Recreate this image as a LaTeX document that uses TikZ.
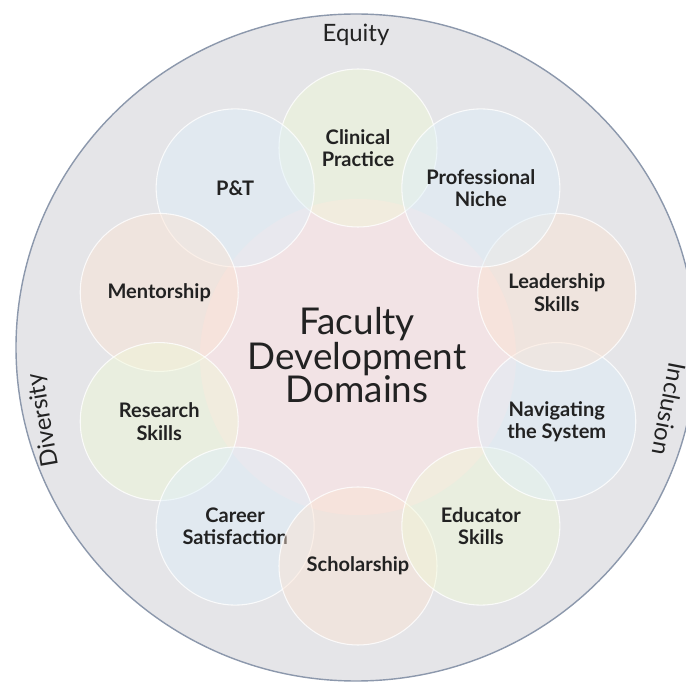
\documentclass[tikz,border=0pt]{standalone}
\usepackage{fontspec}
\setmainfont{Lato}
\usepackage{xcolor}
\usepackage{tikz}
\usetikzlibrary{shapes.geometric}

\definecolor{nen}{RGB}{229,229,232}
\definecolor{vien}{RGB}{140,152,172}
\definecolor{hong}{RGB}{242,227,229}
\definecolor{xanhduong}{RGB}{222,240,250}
\definecolor{xanhla}{RGB}{240,249,214}
\definecolor{cam}{RGB}{253,227,210}
\definecolor{chu}{RGB}{34,34,34}

\begin{document}
\begin{tikzpicture}[
	vong/.style={circle,draw=white,draw opacity=0.8,line width=0.6pt,
		minimum size=3.16cm,inner sep=0pt,fill opacity=0.45,text opacity=1,
		align=center,text=chu,font=\bfseries\fontsize{11.4}{12.8}\selectfont},
	nhan/.style={text=chu,font=\fontsize{13.6}{15}\selectfont}]
			\clip (0,0) rectangle (13.72,13.82);
			\coordinate (O) at (7.12,6.87);
			\coordinate (C) at (7.16,6.68);
			% Vẽ vòng ngoài
			\draw [vien,line width=0.8pt,fill=nen] (O) ellipse (6.8 and 6.67);
			\node [circle,fill=hong,minimum size=6.32cm,inner sep=0pt] (loi) at (C) {};
			% Vẽ các vòng nhỏ
			\foreach \goc/\ten/\mau/\chu in {
				90/lamsang/xanhla/{Clinical\\Practice},
				126/pt/xanhduong/{P\&T},
				162/covan/cam/{Mentorship},
				198/nghiencuu/xanhla/{Research\\Skills},
				234/sunghiep/xanhduong/{Career\\Satisfaction},
				270/hocthuat/cam/{Scholarship},
				306/giaoduc/xanhla/{Educator\\Skills},
				342/dinhhuong/xanhduong/{Navigating\\the System},
				18/lanhdao/cam/{Leadership\\Skills},
				54/chuyenmon/xanhduong/{Professional\\Niche}}
			\node [vong,fill=\mau] (\ten) at ([shift={(\goc:4.18)}]C) {\chu};
			% Chữ
			\node [align=center,text=chu,font=\fontsize{21}{19}\selectfont] (tieude) at (7.14,6.72) {Faculty\\Development\\Domains};
			\node [nhan] (equity) at (7.12,13.12) {Equity};
			\node [nhan,rotate=100] (diversity) at (0.88,5.42) {Diversity};
			\node [nhan,rotate=-101] (inclusion) at (13.38,5.64) {Inclusion};
		\end{tikzpicture}
\end{document}
